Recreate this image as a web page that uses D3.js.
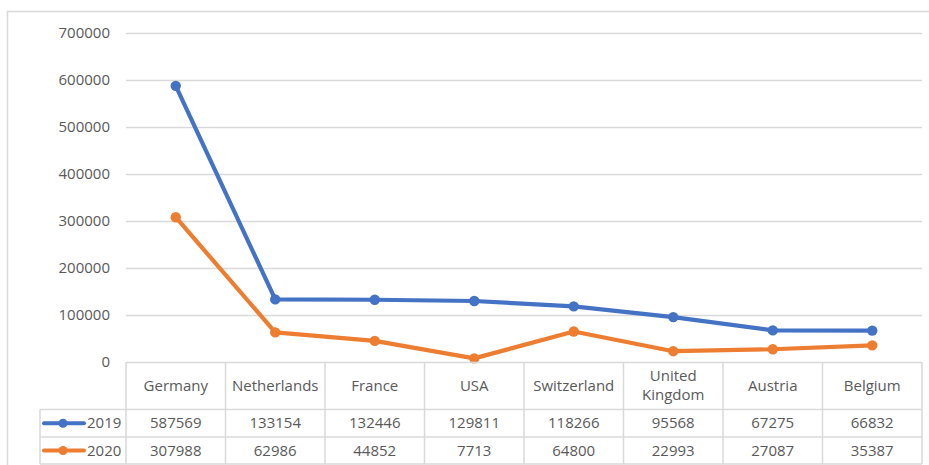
<!DOCTYPE html>
<html>
<head>
<meta charset="utf-8">
<script src="https://cdn.jsdelivr.net/npm/d3@7"></script>
<style>
html,body{margin:0;padding:0;background:#fff;}
svg{display:block;font-family:"Open Sans",Lato,sans-serif;}
</style>
</head>
<body>
<svg id="chart" width="929" height="465"></svg>
<script>
const categories = ["Germany","Netherlands","France","USA","Switzerland","United Kingdom","Austria","Belgium"];
const values2019 = [587569,133154,132446,129811,118266,95568,67275,66832];
const values2020 = [307988,62986,44852,7713,64800,22993,27087,35387];
const seriesNames = ["2019","2020"];
const yTicks = [0,100000,200000,300000,400000,500000,600000,700000];

const series = [
  {name: seriesNames[0], values: values2019, color: "#4472C4"},
  {name: seriesNames[1], values: values2020, color: "#ED7D31"}
];

const svg = d3.select("#chart");
const plotLeft = 126, plotRight = 922, plotTop = 33, plotBottom = 362;
const textColor = "#595959", gridColor = "#d9d9d9";
const fontFam = "Open Sans", fontSize = 15;

svg.append("rect").attr("x",7.5).attr("y",11.5).attr("width",940).attr("height",480)
  .attr("fill","none").attr("stroke",gridColor).attr("stroke-width",1.5);

const x = d3.scaleBand().domain(categories).range([plotLeft,plotRight]);
const y = d3.scaleLinear().domain([0,700000]).range([plotBottom,plotTop]);

svg.append("g").selectAll("line").data(yTicks.filter(d=>d>0)).join("line")
  .attr("x1",plotLeft).attr("x2",plotRight)
  .attr("y1",d=>Math.round(y(d))+0.5).attr("y2",d=>Math.round(y(d))+0.5)
  .attr("stroke",gridColor).attr("stroke-width",1.5);

const yAxis = d3.axisLeft(y).tickValues(yTicks).tickSize(0).tickPadding(0).tickFormat(d3.format("d"));
const yg = svg.append("g").attr("transform",`translate(${110},0)`).call(yAxis);
yg.select(".domain").remove();
yg.selectAll("text").attr("fill",textColor).attr("font-size",fontSize).attr("font-family",fontFam);

const line = d3.line().x((d,i)=>x(categories[i])+x.bandwidth()/2).y(d=>y(d));
series.forEach(s=>{
  svg.append("path").datum(s.values).attr("d",line).attr("fill","none")
    .attr("stroke",s.color).attr("stroke-width",4.2).attr("stroke-linejoin","round").attr("stroke-linecap","round");
  svg.append("g").selectAll("circle").data(s.values).join("circle")
    .attr("cx",(d,i)=>x(categories[i])+x.bandwidth()/2).attr("cy",d=>y(d)).attr("r",5.2)
    .attr("fill",s.color);
});

const rowTops = [362,409.5,437,464];
const legendLeft = 40;
const tg = svg.append("g");
const sw = 1.5;
tg.append("line").attr("x1",plotLeft).attr("x2",plotRight).attr("y1",rowTops[0]+0.5).attr("y2",rowTops[0]+0.5).attr("stroke",gridColor).attr("stroke-width",sw);
[1,2,3].forEach(r=>{
  tg.append("line").attr("x1",legendLeft).attr("x2",plotRight).attr("y1",rowTops[r]).attr("y2",rowTops[r]).attr("stroke",gridColor).attr("stroke-width",sw);
});
tg.append("line").attr("x1",legendLeft).attr("x2",legendLeft).attr("y1",rowTops[1]).attr("y2",rowTops[3]).attr("stroke",gridColor).attr("stroke-width",sw);
const colEdges = categories.map(c=>x(c)).concat([plotRight]);
colEdges.forEach(cx=>{
  tg.append("line").attr("x1",cx).attr("x2",cx).attr("y1",rowTops[0]).attr("y2",rowTops[3]).attr("stroke",gridColor).attr("stroke-width",sw);
});
categories.forEach(c=>{
  const cx = x(c)+x.bandwidth()/2;
  const words = c.split(" ");
  const t = tg.append("text").attr("x",cx).attr("text-anchor","middle").attr("fill",textColor)
    .attr("font-size",fontSize).attr("font-family",fontFam);
  if(words.length>1){
    t.append("tspan").attr("x",cx).attr("y",381).text(words[0]);
    t.append("tspan").attr("x",cx).attr("y",400).text(words.slice(1).join(" "));
  } else {
    t.attr("y",391).text(c);
  }
});
series.forEach((s,r)=>{
  const cy = (rowTops[r+1]+rowTops[r+2])/2;
  s.values.forEach((v,i)=>{
    tg.append("text").attr("x",x(categories[i])+x.bandwidth()/2).attr("y",cy+5)
      .attr("text-anchor","middle").attr("fill",textColor).attr("font-size",fontSize).attr("font-family",fontFam)
      .text(v);
  });
  tg.append("line").attr("x1",44).attr("x2",84).attr("y1",cy).attr("y2",cy)
    .attr("stroke",s.color).attr("stroke-width",4).attr("stroke-linecap","round");
  tg.append("circle").attr("cx",63).attr("cy",cy).attr("r",4.5).attr("fill",s.color);
  tg.append("text").attr("x",87).attr("y",cy+5).attr("fill",textColor).attr("font-size",fontSize).attr("font-family",fontFam).text(s.name);
});
</script>
</body>
</html>
